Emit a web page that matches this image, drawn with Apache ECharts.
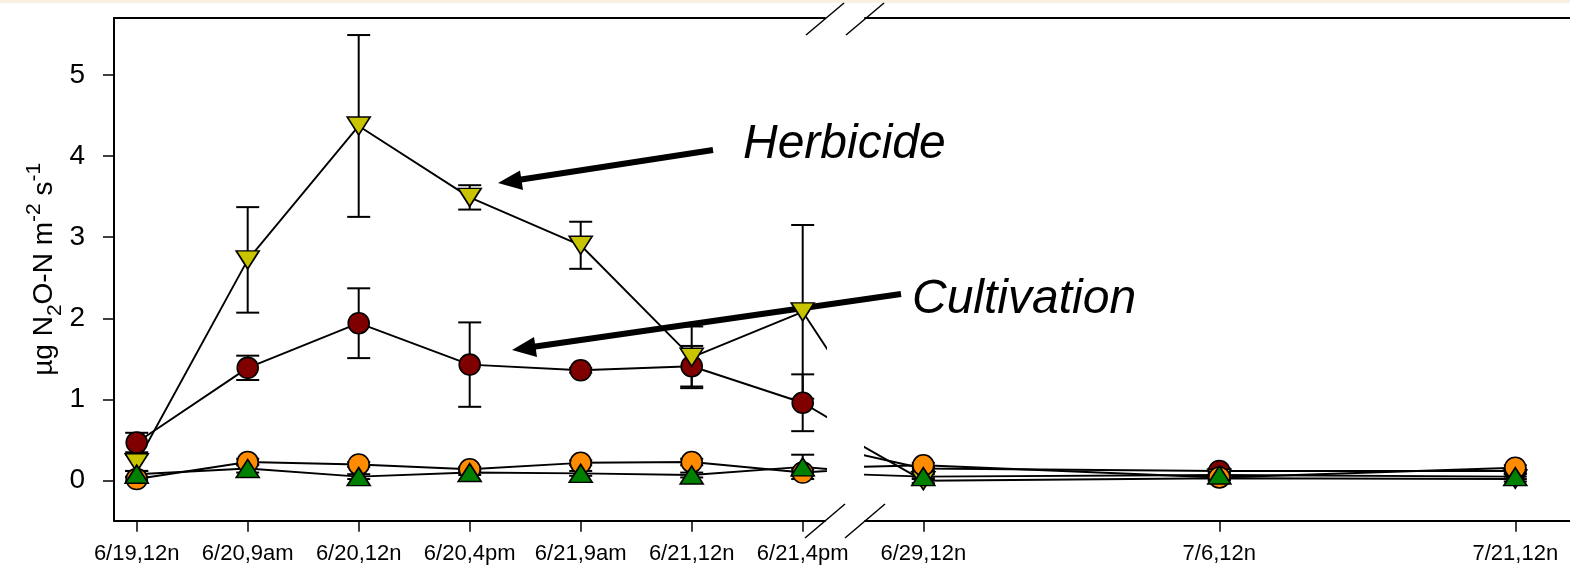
<!DOCTYPE html>
<html>
<head>
<meta charset="utf-8">
<script src="https://cdn.jsdelivr.net/npm/echarts@6/dist/echarts.min.js"></script>
<style>
html,body{margin:0;padding:0;background:#fff;}
#chart{width:1570px;height:567px;}
</style>
</head>
<body>
<div id="chart"></div>
<script>
// ---- data (first 7 = early period, last 3 = later period) ----
const catsLeft = ['6/19,12n','6/20,9am','6/20,12n','6/20,4pm','6/21,9am','6/21,12n','6/21,4pm'];
const catsRight = ['6/29,12n','7/6,12n','7/21,12n'];
const yTicks = [0,1,2,3,4,5];

const cultivation    = [0.47,1.39,1.94,1.43,1.36,1.41,0.96, 0.15,0.12,0.12];
const cultivationErr = [0.12,0.15,0.43,0.52,0.03,0.25,0.35, 0.03,0.03,0.03];
const herbicide      = [0.22,2.72,4.37,3.49,2.90,1.52,2.08, 0.00,0.03,0.02];
const herbicideErr   = [0.10,0.65,1.12,0.15,0.29,0.38,1.07, 0.03,0.03,0.03];
const orangeSeries   = [0.02,0.23,0.20,0.14,0.22,0.23,0.10, 0.19,0.04,0.16];
const orangeErr      = [0.03,0.04,0.03,0.03,0.03,0.04,0.04, 0.03,0.03,0.03];
const greenSeries    = [0.08,0.15,0.05,0.10,0.09,0.07,0.17, 0.05,0.07,0.05];
const greenErr       = [0.04,0.05,0.03,0.03,0.03,0.03,0.15, 0.03,0.03,0.03];

const FONT = "'Liberation Sans', Arial, sans-serif";
const nL = catsLeft.length;

function errRender(params, api) {
  const x = api.value(0), y = api.value(1), e = api.value(2);
  const t = api.coord([x, y + e]);
  const b = api.coord([x, y - e]);
  const hw = 11.5;
  const st = {stroke:'#000', lineWidth:2};
  return {type:'group', children:[
    {type:'line', shape:{x1:t[0],y1:t[1],x2:b[0],y2:b[1]}, style:st},
    {type:'line', shape:{x1:t[0]-hw,y1:t[1],x2:t[0]+hw,y2:t[1]}, style:st},
    {type:'line', shape:{x1:b[0]-hw,y1:b[1],x2:b[0]+hw,y2:b[1]}, style:st}
  ]};
}

const defs = [
  {name:'Cultivation', vals:cultivation, err:cultivationErr, color:'#800000', symbol:'circle', size:21, rot:0},
  {name:'Herbicide', vals:herbicide, err:herbicideErr, color:'#c8c400', symbol:'triangle', size:[23,18], rot:180},
  {name:'Orange', vals:orangeSeries, err:orangeErr, color:'#ff8c00', symbol:'circle', size:21, rot:0},
  {name:'Green', vals:greenSeries, err:greenErr, color:'#008000', symbol:'triangle', size:[23,18], rot:0}
];

const series = [];
defs.forEach(d => {
  // left panel: points 0..6 plus next point (clipped) for the continuing line
  const leftLine = d.vals.slice(0, nL + 1).map((v,i) => [i, v]);
  const leftErr = d.vals.slice(0, nL).map((v,i) => [i, v, d.err[i]]);
  const rightLine = d.vals.slice(nL - 1).map((v,i) => [i - 1, v]);
  const rightErr = d.vals.slice(nL).map((v,i) => [i, v, d.err[nL + i]]);
  [[0, leftLine, leftErr], [1, rightLine, rightErr]].forEach(([g, ld, ed]) => {
    series.push({type:'custom', xAxisIndex:g*2, yAxisIndex:g, renderItem:errRender, data:ed, silent:true});
    series.push({type:'line', name:d.name, xAxisIndex:g*2, yAxisIndex:g, data:ld, clip:true,
      symbol:d.symbol, symbolSize:d.size, symbolRotate:d.rot, showAllSymbol:true,
      lineStyle:{color:'#000', width:1.9},
      itemStyle:{color:d.color, borderColor:'#000', borderWidth:1.6}, silent:true});
  });
});

const gridTop = 18, gridBottom = 567 - 520.7;
const leftX0 = 114, leftX1 = 825, rightX0 = 865;
const sp = 111, firstOff = 22.7; // px
const spR = 296, firstR = 923.3;

const chart = echarts.init(document.getElementById('chart'), null, {renderer:'canvas'});
chart.setOption({
  animation:false,
  textStyle:{fontFamily:FONT},
  grid:[
    {left:leftX0, top:gridTop, width:leftX1-leftX0, bottom:gridBottom},
    {left:rightX0, top:gridTop, right:0, bottom:gridBottom}
  ],
  xAxis:[
    {gridIndex:0, type:'value', min:-firstOff/sp, max:(leftX1-leftX0-firstOff)/sp,
     axisLine:{show:true, onZero:false, lineStyle:{color:'#000', width:2}},
     axisTick:{show:true, length:11, lineStyle:{color:'#000', width:1.5}, customValues:catsLeft.map((c,i)=>i)},
     axisLabel:{customValues:catsLeft.map((c,i)=>i), formatter:v=>catsLeft[Math.round(v)], fontSize:22, color:'#000', margin:22, fontFamily:FONT},
     splitLine:{show:false}},
    {gridIndex:0, type:'value', position:'top', min:-firstOff/sp, max:(leftX1-leftX0-firstOff)/sp,
     axisLine:{show:true, onZero:false, lineStyle:{color:'#000', width:2}}, axisTick:{show:false}, axisLabel:{show:false}, splitLine:{show:false}},
    {gridIndex:1, type:'value', min:(rightX0-firstR)/spR, max:(1570-firstR)/spR,
     axisLine:{show:true, onZero:false, lineStyle:{color:'#000', width:2}},
     axisTick:{show:true, length:11, lineStyle:{color:'#000', width:1.5}, customValues:catsRight.map((c,i)=>i)},
     axisLabel:{customValues:catsRight.map((c,i)=>i), formatter:v=>catsRight[Math.round(v)], fontSize:22, color:'#000', margin:22, fontFamily:FONT},
     splitLine:{show:false}},
    {gridIndex:1, type:'value', position:'top', min:(rightX0-firstR)/spR, max:(1570-firstR)/spR,
     axisLine:{show:true, onZero:false, lineStyle:{color:'#000', width:2}}, axisTick:{show:false}, axisLabel:{show:false}, splitLine:{show:false}}
  ],
  yAxis:[
    {gridIndex:0, type:'value', min:-0.493, max:5.70,
     axisLine:{show:true, onZero:false, lineStyle:{color:'#000', width:2}},
     axisTick:{show:true, length:11, lineStyle:{color:'#000', width:1.5}, customValues:yTicks},
     axisLabel:{customValues:yTicks, fontSize:28, color:'#000', margin:29, fontFamily:FONT},
     splitLine:{show:false},
     name:'{a|µg N}{sub|2}{a|O-N m}{sup|-2}{a| s}{sup|-1}',
     nameLocation:'middle', nameRotate:90, nameGap:46,
     nameTextStyle:{color:'#000', fontFamily:FONT, rich:{
       a:{fontSize:28, lineHeight:42, verticalAlign:'middle', color:'#000', fontFamily:FONT},
       sub:{fontSize:21, lineHeight:21, verticalAlign:'bottom', color:'#000', fontFamily:FONT},
       sup:{fontSize:21, lineHeight:21, verticalAlign:'top', color:'#000', fontFamily:FONT}
     }}},
    {gridIndex:1, type:'value', min:-0.493, max:5.70, show:false, splitLine:{show:false}}
  ],
  graphic:[
    {type:'rect', shape:{x:0,y:0,width:1570,height:3}, style:{fill:'#f8f1e1'}, silent:true},
    // axis break marks
    {type:'line', shape:{x1:805,y1:538,x2:845,y2:504}, style:{stroke:'#000', lineWidth:1.5}},
    {type:'line', shape:{x1:845,y1:538,x2:885,y2:504}, style:{stroke:'#000', lineWidth:1.5}},
    {type:'line', shape:{x1:806,y1:35,x2:844,y2:3}, style:{stroke:'#000', lineWidth:1.5}},
    {type:'line', shape:{x1:846,y1:35,x2:884,y2:3}, style:{stroke:'#000', lineWidth:1.5}},
    // annotations
    {type:'text', x:743, y:169, style:{text:'Herbicide', fontSize:48, fontStyle:'italic', fontFamily:FONT, fill:'#000', textVerticalAlign:'bottom'}},
    {type:'text', x:912, y:324, style:{text:'Cultivation', fontSize:48, fontStyle:'italic', fontFamily:FONT, fill:'#000', textVerticalAlign:'bottom'}},
    {type:'line', shape:{x1:713,y1:150,x2:518,y2:180}, style:{stroke:'#000', lineWidth:6}},
    {type:'polygon', shape:{points:[[498,183],[520,170.5],[523,190]]}, style:{fill:'#000'}},
    {type:'line', shape:{x1:901,y1:294,x2:532,y2:347}, style:{stroke:'#000', lineWidth:6}},
    {type:'polygon', shape:{points:[[512,350],[534,337],[537,357]]}, style:{fill:'#000'}}
  ],
  series:series
});
</script>
</body>
</html>
